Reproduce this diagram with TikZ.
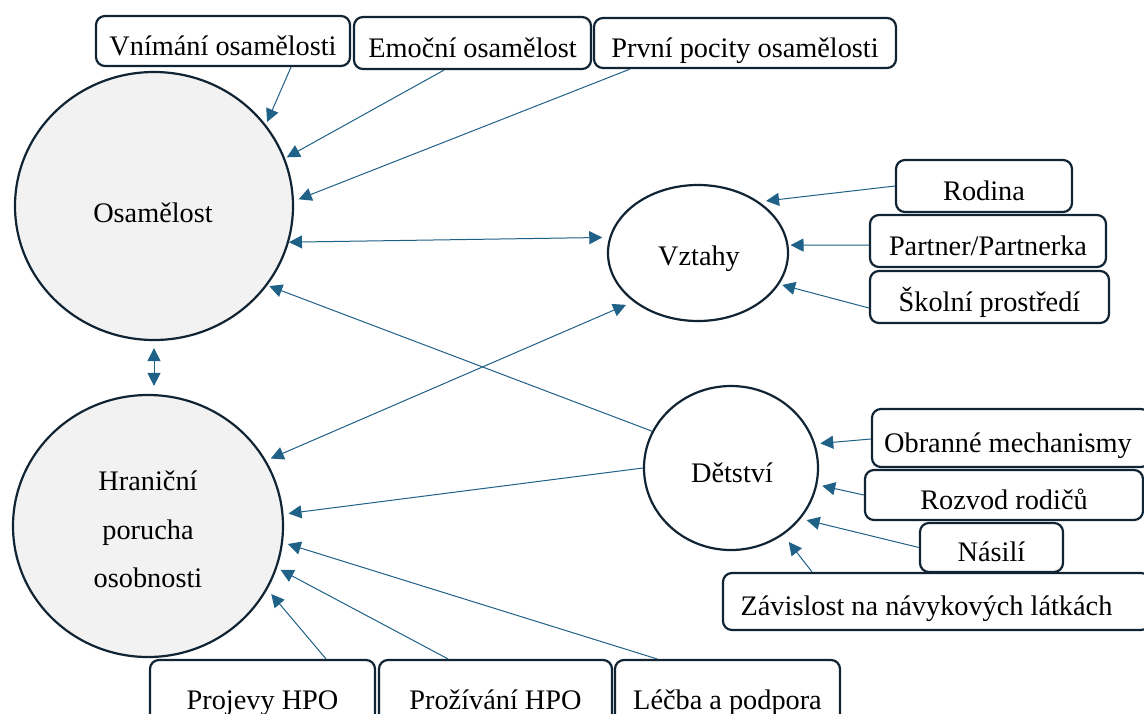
\documentclass[tikz,border=0pt]{standalone}
\usepackage{fontspec}
\setmainfont{Liberation Serif}
\usetikzlibrary{arrows.meta,shapes.geometric,calc}
\definecolor{arr}{RGB}{31,97,135}
\definecolor{edgec}{RGB}{16,36,52}
\definecolor{bubble}{RGB}{242,242,242}
\begin{document}
\begin{tikzpicture}[x=1pt,y=-1pt,
  font=\fontsize{28.3}{34}\selectfont,
  bub/.style={ellipse, draw=edgec, line width=2.2pt, inner sep=0pt},
  tag/.style={anchor=base, inner sep=0pt},
  box/.style={draw=edgec, line width=2.2pt, rounded corners=9pt, fill=white,
              inner sep=0pt, text height=28pt, text depth=0pt},
  arw/.style={draw=arr, line width=1pt, -{Triangle[length=13pt,width=13pt]}},
  darw/.style={draw=arr, line width=1pt,
               {Triangle[length=13pt,width=13pt]}-{Triangle[length=13pt,width=13pt]}},
]
\useasboundingbox (0,0) rectangle (1144,713);
\fill[white] (0,0) rectangle (1144,713);

% main bubbles
\node[bub, fill=bubble, minimum width=278, minimum height=268] (osa) at (154,206) {};
\node[tag] (osaT) at (153,222) {Osamělost};
\node[bub, fill=bubble, minimum width=270, minimum height=262] (hpo) at (148,526) {};
\node[tag] (hpoT1) at (148,490) {Hraniční};
\node[tag] (hpoT2) at (148,539) {porucha};
\node[tag] (hpoT3) at (148,587) {osobnosti};
\node[bub, fill=white, minimum width=180, minimum height=136] (vzt) at (698,253) {};
\node[tag] (vztT) at (699,265) {Vztahy};
\node[bub, fill=white, minimum width=174, minimum height=164] (det) at (731,468) {};
\node[tag] (detT) at (732,482) {Dětství};

% top boxes
\node[box, minimum width=254, minimum height=50] (vnim) at (223,41) {Vnímání osamělosti};
\node[box, minimum width=237, minimum height=52] (emoc) at (472.5,43) {Emoční osamělost};
\node[box, minimum width=302, minimum height=50] (prvni) at (745,43) {První pocity osamělosti};

% right boxes (Vztahy)
\node[box, minimum width=176, minimum height=52] (rodina) at (984,186) {Rodina};
\node[box, minimum width=236, minimum height=52] (partner) at (988,241) {Partner/Partnerka};
\node[box, minimum width=239, minimum height=52] (skolni) at (989.5,297) {Školní prostředí};

% right boxes (Dětství)
\node[box, minimum width=278, minimum height=58] (obranne) at (1011,438) {Obranné mechanismy\hspace*{6pt}};
\node[box, minimum width=278, minimum height=50] (rozvod) at (1004,495) {Rozvod rodičů};
\node[box, minimum width=143, minimum height=49] (nasili) at (991.5,547.5) {Násilí};
\node[box, minimum width=427, minimum height=57] (zavisl) at (936.5,601.5) {Závislost na návykových látkách\hspace*{20pt}};

% bottom boxes
\node[box, minimum width=225, minimum height=70] (projevy) at (262.5,695) {Projevy HPO};
\node[box, minimum width=233, minimum height=70] (prozivani) at (495.5,695) {Prožívání HPO};
\node[box, minimum width=225, minimum height=70] (lecba) at (727.5,695) {Léčba a podpora};

% connectors into Osamělost
\draw[arw, shorten >=3pt] ([xshift=68pt]vnim.south) -- (osa.36);
\draw[arw, shorten >=2pt] ([xshift=-28.5pt]emoc.south) -- (osa.20);
\draw[arw, shorten >=5pt] ([xshift=-115pt]prvni.south) -- (osa.2.4);
\draw[darw, shorten >=7pt] (osa.-15.4) -- (vzt.170.4);
\draw[arw, shorten >=2pt] (det.155) -- (osa.-35.6);
\draw[darw, shorten <=5pt, shorten >=8pt] (hpo.29.5) -- (vzt.217.3);
\draw[darw, shorten <=7pt, shorten >=8pt] (osa.south) -- (osa.south |- hpo.north);

% connectors into Hraniční porucha osobnosti
\draw[arw, shorten >=5pt] (det.180) -- (hpo.5.3);
\draw[arw, shorten >=5pt] ([xshift=-70.5pt]lecba.north) -- (hpo.-7);
\draw[arw, shorten >=4pt] ([xshift=-47.5pt]prozivani.north) -- (hpo.-18.4);
\draw[arw, shorten >=6pt] ([xshift=63.5pt]projevy.north) -- (hpo.-28.4);

% connectors into Vztahy
\draw[arw, shorten >=7pt] (rodina.west) -- (vzt.40.7);
\draw[arw, shorten >=2pt] ([yshift=-4pt]partner.west) -- (vzt.5);
\draw[arw, shorten >=3pt] ([yshift=-11pt]skolni.west) -- (vzt.-21.7);

% connectors into Dětství
\draw[arw, shorten >=5pt] ([yshift=-1pt]obranne.west) -- (det.16.3);
\draw[arw, shorten >=5pt] (rozvod.west) -- (det.-11.3);
\draw[arw, shorten >=6pt] (nasili.west) -- (det.-36.1);
\draw[arw, shorten >=9pt] ([xshift=-124.5pt]zavisl.north) -- (det.-52.9);
\end{tikzpicture}
\end{document}
